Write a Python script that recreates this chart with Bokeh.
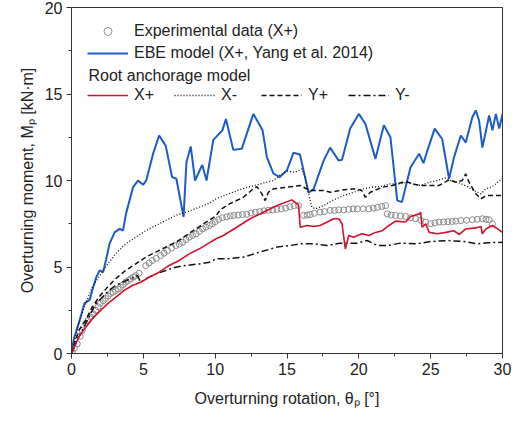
from bokeh.plotting import figure
from bokeh.models import (Range1d, SingleIntervalTicker, Legend, LegendItem, Label)
from bokeh.embed import file_html
from bokeh.resources import INLINE

# ---------------- data ----------------
exp_x = [0.05,0.2,0.4,0.6,0.75,0.98,1.15,1.33,1.5,1.68,1.85,2.0,2.2,2.37,2.55,2.72,2.9,3.07,3.25,3.42,3.6,3.77,3.95,4.12,4.3,4.47,4.7,
         5.17,5.4,5.63,5.9,6.2,6.45,6.68,6.97,7.26,7.5,7.73,7.96,8.2,8.43,8.66,8.9,9.13,9.36,9.6,9.8,10.0,10.25,10.5,10.8,11.05,11.3,11.6,11.9,
         12.2,12.5,12.8,13.1,13.4,13.7,14.0,14.3,14.6,14.9,15.2,15.5,15.8,16.15,16.4,16.6,16.9,17.3,17.6,18.0,18.3,18.6,18.95,19.3,19.6,19.9,
         20.3,20.7,21.0,21.3,21.6,21.86,21.98,22.25,22.55,22.9,23.25,23.6,23.95,24.3,24.65,25.0,25.3,25.58,25.9,26.2,26.5,26.75,27.1,27.5,27.9,
         28.25,28.6,28.85,29.07,29.3]
exp_y = [0.1,0.3,0.56,1.0,1.33,1.73,1.9,2.1,2.3,2.5,2.7,2.9,3.05,3.18,3.33,3.47,3.55,3.64,3.73,3.83,3.98,4.12,4.22,4.32,4.42,4.5,4.64,
         5.08,5.23,5.38,5.5,5.66,5.8,5.95,6.1,6.24,6.33,6.43,6.58,6.72,6.82,6.92,7.06,7.2,7.3,7.4,7.5,7.62,7.75,7.85,7.9,7.95,7.98,8.0,8.03,
         8.05,8.12,8.17,8.2,8.25,8.28,8.3,8.33,8.36,8.4,8.48,8.55,8.55,7.98,8.0,8.03,8.1,8.17,8.2,8.27,8.27,8.3,8.3,8.33,8.36,8.36,
         8.36,8.36,8.4,8.45,8.5,8.55,8.07,8.0,7.98,7.95,7.92,7.85,7.79,7.7,7.6,7.5,7.55,7.6,7.6,7.62,7.63,7.65,7.68,7.7,7.73,
         7.76,7.79,7.76,7.73,7.5]

ebe_x = [0.0,0.2,0.56,0.9,1.26,1.5,1.72,1.96,2.2,2.4,2.65,3.0,3.35,3.58,3.8,4.28,4.63,4.98,5.2,5.68,6.1,6.56,7.0,7.3,7.8,8.0,8.3,8.6,9.1,9.4,
         9.87,10.5,10.75,11.26,11.85,12.66,13.3,13.6,14.06,14.5,15.0,15.45,15.9,16.5,16.85,17.55,18.0,18.6,18.83,19.4,20.0,20.46,21.16,21.74,22.2,
         22.67,23.0,23.6,24.2,24.5,24.77,25.28,25.8,26.28,26.63,27.1,27.44,27.9,28.14,28.37,28.6,29.07,29.3,29.54,29.77,30.0]
ebe_y = [0.2,0.95,1.9,2.9,3.1,3.8,4.4,4.8,4.7,5.4,6.35,7.0,7.2,7.1,8.1,9.6,10.0,9.75,10.0,11.55,12.6,12.0,10.2,10.1,7.9,11.05,11.97,10.0,10.9,10.0,
         12.35,12.9,13.55,11.77,11.83,13.85,12.9,11.35,10.4,10.2,10.6,11.6,11.5,9.3,9.5,11.15,11.9,11.15,11.2,13.0,13.85,13.27,11.25,13.2,12.5,
         8.85,8.75,10.77,11.55,11.0,11.73,13.0,12.4,10.1,11.35,12.6,12.2,13.66,14.05,13.47,11.9,13.76,12.9,13.85,13.0,13.85]

xp_x = [0.0,0.5,0.98,1.44,1.9,2.5,3.07,3.65,4.24,4.82,5.4,6.1,6.8,7.5,8.2,8.9,9.47,10.06,10.57,11.5,12.43,13.36,14.3,15.34,15.64,15.8,15.92,
        16.4,16.85,17.3,17.8,18.25,18.6,18.83,19.06,19.3,19.64,20.2,20.7,21.16,21.63,22.1,22.55,23.25,23.6,24.2,24.3,24.4,24.65,24.9,25.47,26.05,
        26.6,27.0,27.44,28.14,28.5,28.6,28.84,29.3,29.66,30.0]
xp_y = [0.0,0.94,1.52,2.0,2.39,2.87,3.25,3.64,3.93,4.12,4.41,4.7,5.09,5.38,5.76,6.05,6.34,6.63,6.82,7.3,7.79,8.17,8.55,8.88,8.69,8.6,7.3,
        7.4,7.34,7.4,7.6,7.79,7.79,7.5,6.05,6.82,6.72,6.92,6.82,7.0,7.1,7.4,7.65,7.6,7.92,8.07,8.17,7.3,7.5,7.0,6.92,7.0,
        7.1,6.88,7.2,7.26,7.34,6.92,7.2,7.4,7.2,7.0]

xm_x = [0.0,0.5,0.98,1.44,1.9,2.37,3.07,3.77,4.47,5.17,5.87,6.56,7.26,7.96,8.9,9.6,10.06,11.0,12.0,13.1,14.06,14.5,15.0,15.57,16.04,16.27,16.5,
        16.74,16.97,17.55,18.25,18.95,19.64,20.34,20.93,21.5,22.2,22.9,23.37,23.8,24.3,24.9,25.47,26.05,26.4,26.86,27.56,28.0,28.5,28.84,29.2,
        29.54,30.0]
xm_y = [0.0,1.72,2.87,3.83,4.41,5.0,5.76,6.34,6.72,7.1,7.4,7.69,7.98,8.17,8.46,8.69,8.94,9.25,9.55,9.8,10.0,10.3,10.55,10.48,10.67,10.19,9.23,
        8.46,8.36,8.55,8.88,9.13,9.32,9.52,9.61,9.65,9.8,9.8,9.9,9.8,9.71,9.9,10.0,10.15,10.0,9.9,9.65,9.42,9.23,9.52,9.61,
        9.8,10.15]

yp_x = [0.0,0.5,0.98,1.44,1.9,2.5,3.07,3.77,4.47,5.17,5.87,6.56,7.26,7.96,8.66,9.36,10.06,10.34,11.0,11.96,12.66,12.9,13.25,13.48,13.7,14.06,
        15.0,15.92,16.6,17.55,18.0,18.95,19.76,20.2,20.46,20.8,21.63,22.33,23.25,23.72,24.42,24.88,25.58,26.28,26.75,27.2,27.44,27.67,28.14,
        28.5,28.84,29.3,30.0]
yp_y = [0.0,1.33,1.9,2.68,3.25,3.83,4.32,4.8,5.18,5.57,5.86,6.15,6.43,6.82,7.2,7.59,7.95,8.3,8.65,9.03,9.52,9.65,9.23,8.84,9.32,9.52,
        9.61,9.71,9.42,9.42,9.32,9.46,9.52,9.42,9.03,9.32,9.61,9.71,9.96,9.8,9.71,9.71,9.71,10.04,9.9,10.0,10.38,9.9,9.23,
        8.94,9.13,9.13,9.13]

ym_x = [0.0,0.5,0.98,1.33,1.68,2.14,2.6,3.07,3.54,4.12,4.59,4.82,5.17,5.87,6.56,7.26,7.96,8.9,9.6,10.06,10.8,11.96,13.1,14.3,15.2,15.9,16.85,
        17.8,18.7,19.9,20.58,21.3,22.0,22.9,24.07,25.0,26.17,27.33,28.26,28.96,30.0]
ym_y = [0.0,0.94,1.72,2.29,2.87,3.25,3.64,3.93,4.12,4.32,4.5,4.12,4.32,4.6,4.8,4.99,5.09,5.18,5.28,5.47,5.47,5.57,5.86,6.15,6.24,6.34,6.34,
        6.24,6.38,6.38,6.53,6.24,6.24,6.38,6.34,6.47,6.53,6.47,6.34,6.4,6.43]

x_ticks_interval = 5
y_ticks_interval = 5

FONT = "Liberation Sans"
BLUE = "#1f5bc6"
RED = "#d2122e"

p = figure(width=514, height=413, output_backend="svg", toolbar_location=None,
           x_range=Range1d(0, 30), y_range=Range1d(0, 20),
           min_border_left=71, min_border_right=12, min_border_top=7, min_border_bottom=60)
p.background_fill_color = "white"
p.border_fill_color = "white"
p.outline_line_color = "#333333"
p.outline_line_width = 1
p.grid.visible = False

for ax, iv in ((p.xaxis, x_ticks_interval), (p.yaxis, y_ticks_interval)):
    ax.ticker = SingleIntervalTicker(interval=iv, num_minor_ticks=2)
    ax.axis_line_color = "#333333"
    ax.major_tick_line_color = "#333333"
    ax.minor_tick_line_color = "#333333"
    ax.major_tick_out = 5
    ax.major_tick_in = 0
    ax.minor_tick_out = 3
    ax.minor_tick_in = 0
    ax.major_label_text_font = FONT
    ax.major_label_text_font_size = "16px"
    ax.major_label_text_color = "#222222"
    ax.axis_label_text_font = FONT
    ax.axis_label_text_font_size = "16px"
    ax.axis_label_text_font_style = "normal"
    ax.axis_label_text_color = "#222222"
    ax.major_label_standoff = 4

p.xaxis.axis_label = "Overturning rotation, θₚ [°]"
p.yaxis.axis_label = "Overturning moment, Mₚ [kN·m]"
p.xaxis.axis_label_standoff = 12
p.yaxis.axis_label_standoff = 6

r_exp = p.scatter(exp_x, exp_y, marker="circle", size=6, fill_color=None,
                  line_color="#8a8a8a", line_width=1)
r_ebe = p.line(ebe_x, ebe_y, line_color=BLUE, line_width=2)
r_xm = p.line(xm_x, xm_y, line_color="#111111", line_width=1.3, line_dash="1 2")
r_yp = p.line(yp_x, yp_y, line_color="#111111", line_width=1.5, line_dash="5 3")
r_ym = p.line(ym_x, ym_y, line_color="#111111", line_width=1.5, line_dash="7 3 2 3")
r_xp = p.line(xp_x, xp_y, line_color=RED, line_width=1.6)

leg1 = Legend(items=[LegendItem(label="Experimental data (X+)", renderers=[r_exp]),
                     LegendItem(label="EBE model (X+, Yang et al. 2014)", renderers=[r_ebe])],
              location=(16, 290), orientation="vertical")
leg2 = Legend(items=[LegendItem(label="X+", renderers=[r_xp]),
                     LegendItem(label="X-", renderers=[r_xm]),
                     LegendItem(label="Y+", renderers=[r_yp]),
                     LegendItem(label="Y-", renderers=[r_ym])],
              location=(16, 248), orientation="horizontal")
for lg in (leg1, leg2):
    lg.border_line_color = None
    lg.background_fill_alpha = 0
    lg.padding = 0
    lg.margin = 0
    lg.glyph_width = 41
    lg.glyph_height = 20
    lg.label_height = 20
    lg.label_standoff = 6
    lg.label_text_font = FONT
    lg.label_text_font_size = "16px"
    lg.label_text_color = "#222222"
leg1.spacing = 2
leg2.spacing = 12
leg2.label_width = 28
p.add_layout(leg1)
p.add_layout(leg2)

root_lbl = Label(x=17, y=278, x_units="screen", y_units="screen",
                 text="Root anchorage model", text_font=FONT, text_font_size="16px",
                 text_color="#222222", text_baseline="middle")
p.add_layout(root_lbl)

open("out.html", "w").write(file_html(p, INLINE))
